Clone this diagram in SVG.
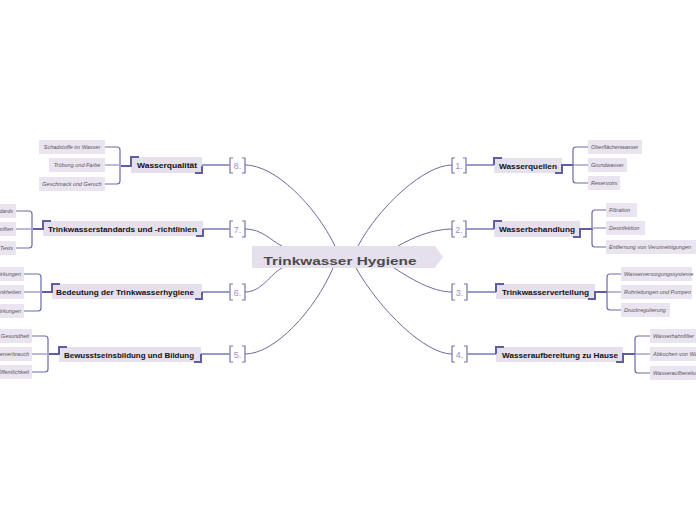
<svg xmlns="http://www.w3.org/2000/svg" width="696" height="520" viewBox="0 0 696 520">
<style>
.bg{fill:#ffffff}
.conn{fill:none;stroke:#6c6ca0;stroke-width:1}
.link{fill:none;stroke:#9a9ac8;stroke-width:2}
.brace{fill:none;stroke:#6a6aa8;stroke-width:1.2}
.mid{fill:none;stroke:#a4a4cc;stroke-width:1.5}
.deco{fill:none;stroke:#5e5ea0;stroke-width:2}
.brk{fill:none;stroke:#7474aa;stroke-width:1.2}
.num{font-family:"Liberation Sans",sans-serif;font-size:9px;fill:#a98cc4;text-anchor:middle}
.nbox{fill:#e6e0ec}
.ntext{font-family:"Liberation Sans",Arial,sans-serif;font-weight:bold;font-size:7.5px;fill:#111}
.lbox{fill:#e9e4ef}
.ltext{font-family:"Liberation Sans",Arial,sans-serif;font-style:italic;font-size:5.5px;fill:#555}
.center{fill:#e6e0ec}
.ctext{font-family:"Liberation Sans",Arial,sans-serif;font-weight:bold;font-size:11px;fill:#4a4a4a;text-anchor:middle}
</style>
<rect class="bg" x="0" y="0" width="696" height="520"/>
<g id="connectors">
  <path class="conn" d="M245,165 C275,165 315,205 335,246"/>
  <path class="conn" d="M245,229 C262,229 270,240 282,246"/>
  <path class="conn" d="M245,292 C262,292 270,274 282,268"/>
  <path class="conn" d="M245,354 C275,354 315,310 333,268"/>
  <path class="conn" d="M452,165 C425,165 380,205 358,246"/>
  <path class="conn" d="M452,229 C432,229 412,238 398,246"/>
  <path class="conn" d="M452,292 C432,292 410,278 394,268"/>
  <path class="conn" d="M452,354 C425,354 380,310 356,268"/>
</g>
<g id="center">
  <path class="center" d="M252,246 H435 L443,257 L435,268 H252 Z"/>
  <text class="ctext" x="340" y="265" textLength="153" lengthAdjust="spacingAndGlyphs">Trinkwasser Hygiene</text>
</g>
<!-- Left: 8 -->
<g id="n8">
  <path class="brk" d="M233,158 H230 V173 H233 M242,158 H245 V173 H242"/>
  <text class="num" x="237.5" y="169">8.</text>
  <path class="link" d="M202,165 H230"/>
  <rect class="nbox" x="131" y="157" width="71" height="16"/>
  <text class="ntext" x="137" y="168" textLength="60" lengthAdjust="spacingAndGlyphs">Wasserqualität</text>
  <path class="deco" d="M121,166 H131 V157 H139 M195,173 H202 V166"/>
  <path class="brace" d="M105,147 H117 Q120,147 120,150 V181 Q120,184 117,184 H105"/>
  <path class="mid" d="M105,165 H121"/>
  <rect class="lbox" x="39" y="140" width="66" height="14"/>
  <text class="ltext" x="72" y="149" text-anchor="middle">Schadstoffe im Wasser</text>
  <rect class="lbox" x="49" y="158" width="56" height="14"/>
  <text class="ltext" x="77" y="167" text-anchor="middle">Trübung und Farbe</text>
  <rect class="lbox" x="39" y="177" width="66" height="14"/>
  <text class="ltext" x="72" y="186" text-anchor="middle">Geschmack und Geruch</text>
</g>
<!-- Left: 7 -->
<g id="n7">
  <path class="brk" d="M233,221 H230 V237 H233 M242,221 H245 V237 H242"/>
  <text class="num" x="237.5" y="232.5">7.</text>
  <path class="link" d="M203,229 H230"/>
  <rect class="nbox" x="43" y="221" width="160" height="15"/>
  <text class="ntext" x="48" y="231.5" textLength="149" lengthAdjust="spacingAndGlyphs">Trinkwasserstandards und -richtlinien</text>
  <path class="deco" d="M33,229 H43 V221 H51 M196,236 H203 V229"/>
  <path class="brace" d="M16,211 H29 Q32,211 32,214 V245 Q32,248 29,248 H16"/>
  <path class="mid" d="M16,229 H33"/>
  <rect class="lbox" x="-60" y="204" width="76" height="14"/>
  <text class="ltext" x="13" y="213" text-anchor="end">Internationale Standards</text>
  <rect class="lbox" x="-60" y="222" width="76" height="14"/>
  <text class="ltext" x="13" y="231" text-anchor="end">Gesetzliche Vorschriften</text>
  <rect class="lbox" x="-60" y="241" width="76" height="14"/>
  <text class="ltext" x="13" y="250" text-anchor="end">Regelmäßige Tests</text>
</g>
<!-- Left: 6 -->
<g id="n6">
  <path class="brk" d="M233,284 H230 V300 H233 M242,284 H245 V300 H242"/>
  <text class="num" x="237.5" y="295.5">6.</text>
  <path class="link" d="M202,292 H230"/>
  <rect class="nbox" x="52" y="284" width="150" height="15"/>
  <text class="ntext" x="56" y="294.5" textLength="138" lengthAdjust="spacingAndGlyphs">Bedeutung der Trinkwasserhygiene</text>
  <path class="deco" d="M42,292 H52 V284 H60 M195,299 H202 V292"/>
  <path class="brace" d="M24,274 H38 Q41,274 41,277 V308 Q41,311 38,311 H24"/>
  <path class="mid" d="M24,292 H42"/>
  <rect class="lbox" x="-60" y="267" width="84" height="14"/>
  <text class="ltext" x="21" y="276" text-anchor="end">Gesundheitliche Auswirkungen</text>
  <rect class="lbox" x="-60" y="285" width="84" height="14"/>
  <text class="ltext" x="21" y="294" text-anchor="end">Vermeidung von Krankheiten</text>
  <rect class="lbox" x="-60" y="304" width="84" height="14"/>
  <text class="ltext" x="21" y="313" text-anchor="end">Ökologische Auswirkungen</text>
</g>
<!-- Left: 5 -->
<g id="n5">
  <path class="brk" d="M233,346 H230 V362 H233 M242,346 H245 V362 H242"/>
  <text class="num" x="237.5" y="357.5">5.</text>
  <path class="link" d="M201,354 H230"/>
  <rect class="nbox" x="59" y="347" width="142" height="15"/>
  <text class="ntext" x="64" y="357.5" textLength="130" lengthAdjust="spacingAndGlyphs">Bewusstseinsbildung und Bildung</text>
  <path class="deco" d="M49,354 H59 V347 H67 M194,362 H201 V354"/>
  <path class="brace" d="M32,336 H45 Q48,336 48,339 V369 Q48,372 45,372 H32"/>
  <path class="mid" d="M32,354 H49"/>
  <rect class="lbox" x="-60" y="329" width="92" height="14"/>
  <text class="ltext" x="29" y="338" text-anchor="end">Öffentliche Gesundheit</text>
  <rect class="lbox" x="-60" y="347" width="92" height="14"/>
  <text class="ltext" x="29" y="356" text-anchor="end">Bewusster Wasserverbrauch</text>
  <rect class="lbox" x="-60" y="365" width="92" height="14"/>
  <text class="ltext" x="29" y="374" text-anchor="end">Aufklärung der Öffentlichkeit</text>
</g>
<!-- Right: 1 -->
<g id="n1">
  <path class="brk" d="M455,158 H452 V173 H455 M463,158 H466 V173 H463"/>
  <text class="num" x="459" y="169">1.</text>
  <path class="link" d="M466,165 H494"/>
  <rect class="nbox" x="494" y="158" width="68" height="15"/>
  <text class="ntext" x="499" y="168.5" textLength="58" lengthAdjust="spacingAndGlyphs">Wasserquellen</text>
  <path class="deco" d="M494,165 V158 H502 M555,173 H562 V165 H574"/>
  <path class="brace" d="M588,147 H576 Q573,147 573,150 V180 Q573,183 576,183 H588"/>
  <path class="mid" d="M573,165 H588"/>
  <rect class="lbox" x="588" y="140" width="54" height="14"/>
  <text class="ltext" x="591" y="149">Oberflächenwasser</text>
  <rect class="lbox" x="588" y="158" width="39" height="14"/>
  <text class="ltext" x="591" y="167">Grundwasser</text>
  <rect class="lbox" x="588" y="176" width="32" height="14"/>
  <text class="ltext" x="591" y="185">Reservoirs</text>
</g>
<!-- Right: 2 -->
<g id="n2">
  <path class="brk" d="M455,221 H452 V237 H455 M463,221 H466 V237 H463"/>
  <text class="num" x="459" y="232.5">2.</text>
  <path class="link" d="M466,229 H494"/>
  <rect class="nbox" x="494" y="221" width="86" height="16"/>
  <text class="ntext" x="499" y="232" textLength="76" lengthAdjust="spacingAndGlyphs">Wasserbehandlung</text>
  <path class="deco" d="M494,229 V221 H502 M573,237 H580 V229 H593"/>
  <path class="brace" d="M606,210 H595 Q592,210 592,213 V244 Q592,247 595,247 H606"/>
  <path class="mid" d="M592,228 H606"/>
  <rect class="lbox" x="606" y="203" width="31" height="14"/>
  <text class="ltext" x="609" y="212">Filtration</text>
  <rect class="lbox" x="606" y="221" width="39" height="14"/>
  <text class="ltext" x="609" y="230">Desinfektion</text>
  <rect class="lbox" x="606" y="240" width="92" height="14"/>
  <text class="ltext" x="609" y="249">Entfernung von Verunreinigungen</text>
</g>
<!-- Right: 3 -->
<g id="n3">
  <path class="brk" d="M455,284 H452 V300 H455 M464,284 H467 V300 H464"/>
  <text class="num" x="459.5" y="295.5">3.</text>
  <path class="link" d="M467,292 H496"/>
  <rect class="nbox" x="496" y="284" width="99" height="15"/>
  <text class="ntext" x="502" y="294.5" textLength="87" lengthAdjust="spacingAndGlyphs">Trinkwasserverteilung</text>
  <path class="deco" d="M496,292 V284 H504 M588,299 H595 V292 H608"/>
  <path class="brace" d="M621,274 H610 Q607,274 607,277 V307 Q607,310 610,310 H621"/>
  <path class="mid" d="M607,292 H621"/>
  <rect class="lbox" x="621" y="267" width="71" height="14"/>
  <text class="ltext" x="624" y="276">Wasserversorgungssysteme</text>
  <rect class="lbox" x="621" y="285" width="71" height="14"/>
  <text class="ltext" x="624" y="294">Rohrleitungen und Pumpen</text>
  <rect class="lbox" x="621" y="303" width="49" height="14"/>
  <text class="ltext" x="624" y="312">Druckregulierung</text>
</g>
<!-- Right: 4 -->
<g id="n4">
  <path class="brk" d="M455,346 H452 V362 H455 M464,346 H467 V362 H464"/>
  <text class="num" x="459.5" y="357.5">4.</text>
  <path class="link" d="M467,354 H496"/>
  <rect class="nbox" x="496" y="347" width="127" height="15"/>
  <text class="ntext" x="502" y="357.5" textLength="116" lengthAdjust="spacingAndGlyphs">Wasseraufbereitung zu Hause</text>
  <path class="deco" d="M496,354 V347 H504 M616,362 H623 V354 H636"/>
  <path class="brace" d="M650,336 H638 Q635,336 635,339 V370 Q635,373 638,373 H650"/>
  <path class="mid" d="M635,354 H650"/>
  <rect class="lbox" x="650" y="329" width="60" height="14"/>
  <text class="ltext" x="653" y="338">Wasserhahnfilter</text>
  <rect class="lbox" x="650" y="347" width="60" height="14"/>
  <text class="ltext" x="653" y="356">Abkochen von Wasser</text>
  <rect class="lbox" x="650" y="366" width="60" height="14"/>
  <text class="ltext" x="653" y="375">Wasseraufbereitungsanlagen</text>
</g>
</svg>
